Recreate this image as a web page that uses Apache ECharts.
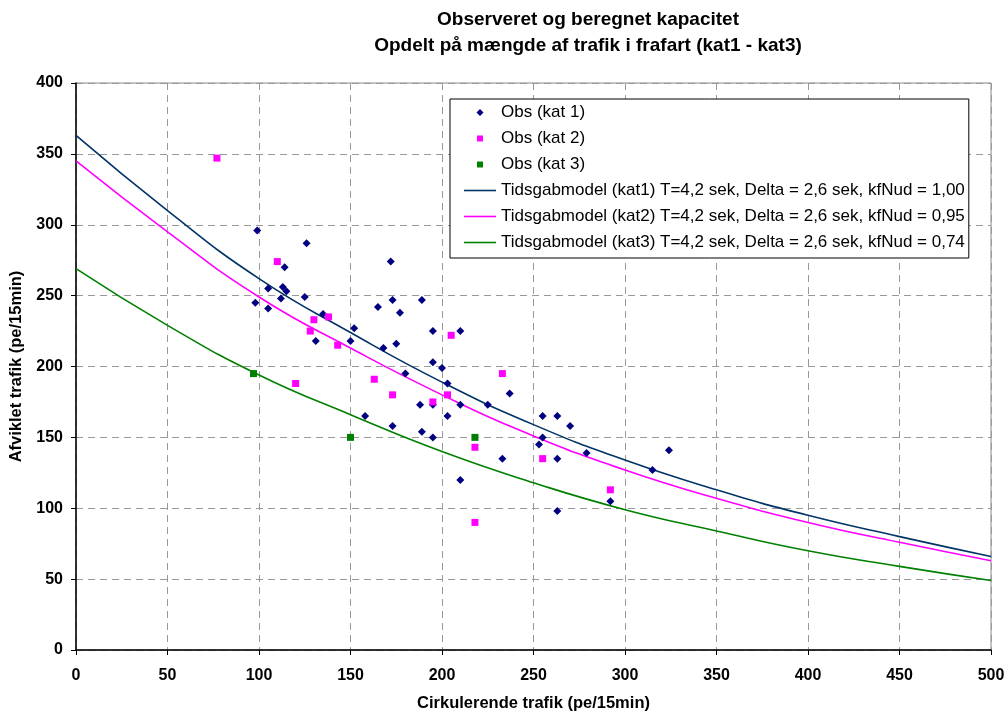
<!DOCTYPE html>
<html>
<head>
<meta charset="utf-8">
<script src="https://cdn.jsdelivr.net/npm/echarts@6/dist/echarts.min.js"></script>
<style>
html,body{margin:0;padding:0;background:#fff;}
#main{width:1007px;height:713px;}
</style>
</head>
<body>
<div id="main"></div>
<script>
// observations, [circulating, capacity]
var obsKat1 = [[99,296],[126,287],[114,270],[172,274],[105,255],[113,256],[115,253],[125,249],[98,245],[112,248],
  [105,241],[165,242],[173,247],[177,238],[135,237],[152,227],[131,218],[150,218],[168,213],[175,216],
  [158,165],[173,158],[189,247],[195,225],[210,225],[195,203],[200,199],[180,195],[203,188],[237,181],
  [188,173],[195,173],[210,173],[225,173],[203,165],[255,165],[263,165],[270,158],[189,154],[195,150],
  [255,150],[253,145],[279,139],[324,141],[233,135],[263,135],[315,127],[210,120],[292,105],[263,98]];
var obsKat2 = [[77,347],[110,274],[138,235],[130,233],[128,225],[143,215],[120,188],[163,191],[173,180],
  [205,222],[233,195],[203,180],[195,175],[218,143],[255,135],[292,113],[218,90]];
var obsKat3 = [[97,195],[150,150],[218,150]];

// model curves
var modelX = [0,50,100,150,200,250,300,350,400,450,500];
var modelKat1 = [363,310,262,224,189,159,134,113,95,80,66];
var modelKat2 = [345,295,249,213,180,151,127,107,90,76,63];
var modelKat3 = [269,229,194,166,140,118,99,84,70,59,49];

var names = ['Obs (kat 1)', 'Obs (kat 2)', 'Obs (kat 3)',
  'Tidsgabmodel (kat1) T=4,2 sek, Delta = 2,6 sek, kfNud = 1,00',
  'Tidsgabmodel (kat2) T=4,2 sek, Delta = 2,6 sek, kfNud = 0,95',
  'Tidsgabmodel (kat3) T=4,2 sek, Delta = 2,6 sek, kfNud = 0,74'];
var xTicks = {min:0, max:500, step:50};
var yTicks = {min:0, max:400, step:50};

function pairs(xs, ys){
  return xs.map(function(x, i){ return [x, ys[i]]; });
}

var chart = echarts.init(document.getElementById('main'));
var font = 'Liberation Sans, Arial, sans-serif';
var iconDiamond = 'path://M0 0M32 14M16 3.5L19.5 7L16 10.5L12.5 7Z';
var iconSquare = 'path://M0 0M32 14M13 4H19V10H13Z';
var iconLine = 'path://M0 0M32 14M0 6.2H32V7.8H0Z';

var option = {
  animation: false,
  backgroundColor: '#fff',
  title: {
    text: 'Observeret og beregnet kapacitet\nOpdelt på mængde af trafik i frafart (kat1 - kat3)',
    left: 588,
    top: 7,
    padding: 0,
    textAlign: 'center',
    textStyle: {fontFamily: font, fontSize: 19, fontWeight: 'bold', color: '#000', lineHeight: 26}
  },
  legend: {
    orient: 'vertical',
    left: 450,
    top: 99,
    padding: [5, 4, 7, 14],
    itemGap: 9,
    itemWidth: 32,
    itemHeight: 14,
    backgroundColor: '#fff',
    borderColor: '#000',
    borderWidth: 1,
    textStyle: {fontFamily: font, fontSize: 17, color: '#000'},
    data: [
      {name: names[0], icon: iconDiamond, itemStyle: {color: '#000080'}},
      {name: names[1], icon: iconSquare, itemStyle: {color: '#ff00ff'}},
      {name: names[2], icon: iconSquare, itemStyle: {color: '#008000'}},
      {name: names[3], icon: iconLine, itemStyle: {color: '#003366'}},
      {name: names[4], icon: iconLine, itemStyle: {color: '#ff00ff'}},
      {name: names[5], icon: iconLine, itemStyle: {color: '#008000'}}
    ]
  },
  grid: {
    left: 76, right: 16, top: 83, bottom: 63,
    outerBoundsMode: 'none',
    containLabel: false,
    show: true, borderColor: '#888', borderWidth: 1
  },
  xAxis: {
    type: 'value',
    min: xTicks.min, max: xTicks.max, interval: xTicks.step,
    name: 'Cirkulerende trafik (pe/15min)',
    nameLocation: 'middle',
    nameGap: 45,
    nameTextStyle: {fontFamily: font, fontSize: 16.5, fontWeight: 'bold', color: '#000'},
    axisLine: {show: true, onZero: false, lineStyle: {color: '#000', width: 1.5}},
    axisTick: {show: true, length: 5, lineStyle: {color: '#000'}},
    axisLabel: {fontFamily: font, fontSize: 16, fontWeight: 'bold', color: '#000', margin: 18},
    splitLine: {show: true, lineStyle: {color: '#999', type: [7, 5], width: 1}}
  },
  yAxis: {
    type: 'value',
    min: yTicks.min, max: yTicks.max, interval: yTicks.step,
    name: 'Afviklet trafik (pe/15min)',
    nameLocation: 'middle',
    nameGap: 50,
    nameTextStyle: {fontFamily: font, fontSize: 16.5, fontWeight: 'bold', color: '#000'},
    axisLine: {show: true, onZero: false, lineStyle: {color: '#000', width: 1.5}},
    axisTick: {show: true, length: 5, lineStyle: {color: '#000'}},
    axisLabel: {fontFamily: font, fontSize: 16, fontWeight: 'bold', color: '#000', margin: 13},
    splitLine: {show: true, lineStyle: {color: '#999', type: [7, 5], width: 1}}
  },
  series: [
    {name: names[3], type: 'line', smooth: true, symbol: 'none', z: 2,
      data: pairs(modelX, modelKat1), lineStyle: {color: '#003366', width: 1.6}, itemStyle: {color: '#003366'}},
    {name: names[4], type: 'line', smooth: true, symbol: 'none', z: 2,
      data: pairs(modelX, modelKat2), lineStyle: {color: '#ff00ff', width: 1.6}, itemStyle: {color: '#ff00ff'}},
    {name: names[5], type: 'line', smooth: true, symbol: 'none', z: 2,
      data: pairs(modelX, modelKat3), lineStyle: {color: '#008000', width: 1.6}, itemStyle: {color: '#008000'}},
    {name: names[0], type: 'scatter', symbol: 'diamond', symbolSize: 8, z: 3,
      data: obsKat1, itemStyle: {color: '#000080', opacity: 1}},
    {name: names[1], type: 'scatter', symbol: 'rect', symbolSize: 7, z: 3,
      data: obsKat2, itemStyle: {color: '#ff00ff', opacity: 1}},
    {name: names[2], type: 'scatter', symbol: 'rect', symbolSize: 7, z: 3,
      data: obsKat3, itemStyle: {color: '#008000', opacity: 1}}
  ]
};
chart.setOption(option);
</script>
</body>
</html>
